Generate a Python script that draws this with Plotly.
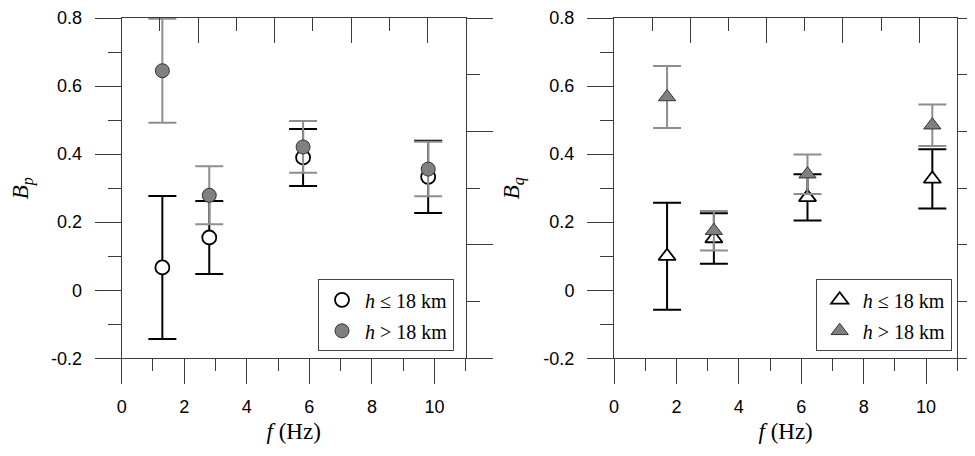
import plotly.graph_objects as go

# ---------------- data ----------------
f_p = [1.3, 2.8, 5.8, 9.8]
bp_shallow = [0.067, 0.155, 0.390, 0.333]
bp_shallow_err = [0.210, 0.107, 0.084, 0.106]
bp_deep = [0.645, 0.279, 0.421, 0.356]
bp_deep_err = [0.153, 0.085, 0.076, 0.080]

f_q = [1.7, 3.2, 6.2, 10.2]
bq_shallow = [0.100, 0.152, 0.273, 0.327]
bq_shallow_err = [0.157, 0.074, 0.068, 0.087]
bq_deep = [0.568, 0.175, 0.341, 0.485]
bq_deep_err = [0.091, 0.058, 0.058, 0.061]

x_tickvals = [0, 2, 4, 6, 8, 10]
x_ticktext = ["0", "2", "4", "6", "8", "10"]
y_tickvals = [-0.2, 0, 0.2, 0.4, 0.6, 0.8]
y_ticktext = ["-0.2", "0", "0.2", "0.4", "0.6", "0.8"]

label_shallow = "<i>h</i> ≤ 18 km"
label_deep = "<i>h</i> > 18 km"
x_title = "<i>f</i> (Hz)"
y_titles = ["<i>B</i><sub><i>p</i></sub>", "<i>B</i><sub><i>q</i></sub>"]

# ---------------- style ----------------
BLACK = "#000000"
GRAY_FILL = "#808080"
GRAY_ERR = "#8e8e8e"
AXC = "#3a3a3a"
TICKFONT = dict(family="Liberation Sans, Arial, sans-serif", size=18, color="#000")
TITLEFONT = dict(family="Liberation Serif, Times New Roman, serif", size=23, color="#000")
LEGFONT = dict(family="Liberation Serif, Times New Roman, serif", size=20, color="#000")

fig = go.Figure()

panels = [
    dict(f=f_p, s=bp_shallow, se=bp_shallow_err, d=bp_deep, de=bp_deep_err,
         sym="circle", size=14, xa="x", ya="y", xt="x3", yr="y3", leg="legend"),
    dict(f=f_q, s=bq_shallow, se=bq_shallow_err, d=bq_deep, de=bq_deep_err,
         sym="triangle-up", size=15, xa="x2", ya="y2", xt="x4", yr="y4", leg="legend2"),
]

for p in panels:
    # empty traces so the decorative top / right frame axes get drawn
    fig.add_trace(go.Scatter(x=[], y=[], xaxis=p["xt"], yaxis=p["ya"],
                             showlegend=False, hoverinfo="skip"))
    fig.add_trace(go.Scatter(x=[], y=[], xaxis=p["xa"], yaxis=p["yr"],
                             showlegend=False, hoverinfo="skip"))
    fig.add_trace(go.Scatter(
        x=p["f"], y=p["s"], mode="markers", name=label_shallow,
        xaxis=p["xa"], yaxis=p["ya"], legend=p["leg"], legendgroup="shallow",
        cliponaxis=False,
        marker=dict(symbol=p["sym"], size=p["size"], color="white",
                    line=dict(color=BLACK, width=1.8)),
        error_y=dict(type="data", array=p["se"], visible=True, color=BLACK,
                     thickness=2, width=14),
    ))
    fig.add_trace(go.Scatter(
        x=p["f"], y=p["d"], mode="markers", name=label_deep,
        xaxis=p["xa"], yaxis=p["ya"], legend=p["leg"], legendgroup="deep",
        cliponaxis=False,
        marker=dict(symbol=p["sym"], size=p["size"], color=GRAY_FILL,
                    line=dict(color="#333333", width=1)),
        error_y=dict(type="data", array=p["de"], visible=True, color=GRAY_ERR,
                     thickness=2, width=14),
    ))

# page body has an 8px margin, so positions are offset by 8px
Y_DOM = [0.23180, 0.97807]
X_DOMS = [[0.11662, 0.46944], [0.62154, 0.97364]]

def bottom_x(dom, anchor):
    return dict(domain=dom, anchor=anchor, range=[0, 11],
                tickmode="array", tickvals=x_tickvals, ticktext=x_ticktext,
                showline=True, linecolor=AXC, linewidth=1, mirror=False,
                ticks="outside", ticklen=25, tickwidth=1, tickcolor=AXC,
                minor=dict(dtick=1, tick0=0, ticks="outside", ticklen=12, tickwidth=1, tickcolor=AXC),
                showgrid=False, zeroline=False, tickfont=TICKFONT,
                ticklabelstandoff=7,
                title=dict(text=x_title, font=TITLEFONT, standoff=7),
                automargin=False, fixedrange=True)

def left_y(anchor, title):
    return dict(domain=Y_DOM, anchor=anchor, range=[-0.2, 0.8],
                tickmode="array", tickvals=y_tickvals, ticktext=y_ticktext,
                showline=True, linecolor=AXC, linewidth=1,
                ticks="outside", ticklen=26, tickwidth=1, tickcolor=AXC,
                minor=dict(dtick=0.1, tick0=0, ticks="outside", ticklen=13, tickwidth=1, tickcolor=AXC),
                showgrid=False, zeroline=False, tickfont=TICKFONT,
                ticklabelstandoff=9,
                title=dict(text=title, font=TITLEFONT, standoff=17),
                automargin=False, fixedrange=True)

def top_x(overlay, anchor):
    return dict(overlaying=overlay, anchor=anchor, side="top", range=[0, 9], dtick=2, tick0=0,
                showline=True, linecolor=AXC, linewidth=1,
                ticks="inside", ticklen=25, tickwidth=1, tickcolor=AXC,
                minor=dict(dtick=1, ticks="inside", ticklen=13, tickwidth=1, tickcolor=AXC),
                showticklabels=False, showgrid=False, zeroline=False,
                automargin=False, fixedrange=True)

def right_y(overlay, anchor):
    return dict(overlaying=overlay, anchor=anchor, side="right", range=[0, 3], dtick=1, tick0=0,
                showline=True, linecolor=AXC, linewidth=1,
                ticks="outside", ticklen=26, tickwidth=1, tickcolor=AXC,
                minor=dict(dtick=0.5, ticks="outside", ticklen=13, tickwidth=1, tickcolor=AXC),
                showticklabels=False, showgrid=False, zeroline=False,
                automargin=False, fixedrange=True)

legend_common = dict(
    xanchor="left", yanchor="top", bgcolor="white",
    bordercolor="#444444", borderwidth=1, font=LEGFONT,
    itemclick=False, itemdoubleclick=False, tracegroupgap=2, itemwidth=36,
    traceorder="grouped",
)

fig.update_layout(
    width=975, height=456,
    margin=dict(l=0, r=0, t=0, b=0, pad=0),
    paper_bgcolor="white", plot_bgcolor="white",
    showlegend=True,
    xaxis=bottom_x(X_DOMS[0], "y"),
    yaxis=left_y("x", y_titles[0]),
    xaxis2=bottom_x(X_DOMS[1], "y2"),
    yaxis2=left_y("x2", y_titles[1]),
    xaxis3=top_x("x", "y"),
    yaxis3=right_y("y", "x"),
    xaxis4=top_x("x2", "y2"),
    yaxis4=right_y("y2", "x2"),
    legend=dict(x=0.31795, y=0.405, **legend_common),
    legend2=dict(x=0.82841, y=0.405, **legend_common),
)

fig.write_html("out.html")
